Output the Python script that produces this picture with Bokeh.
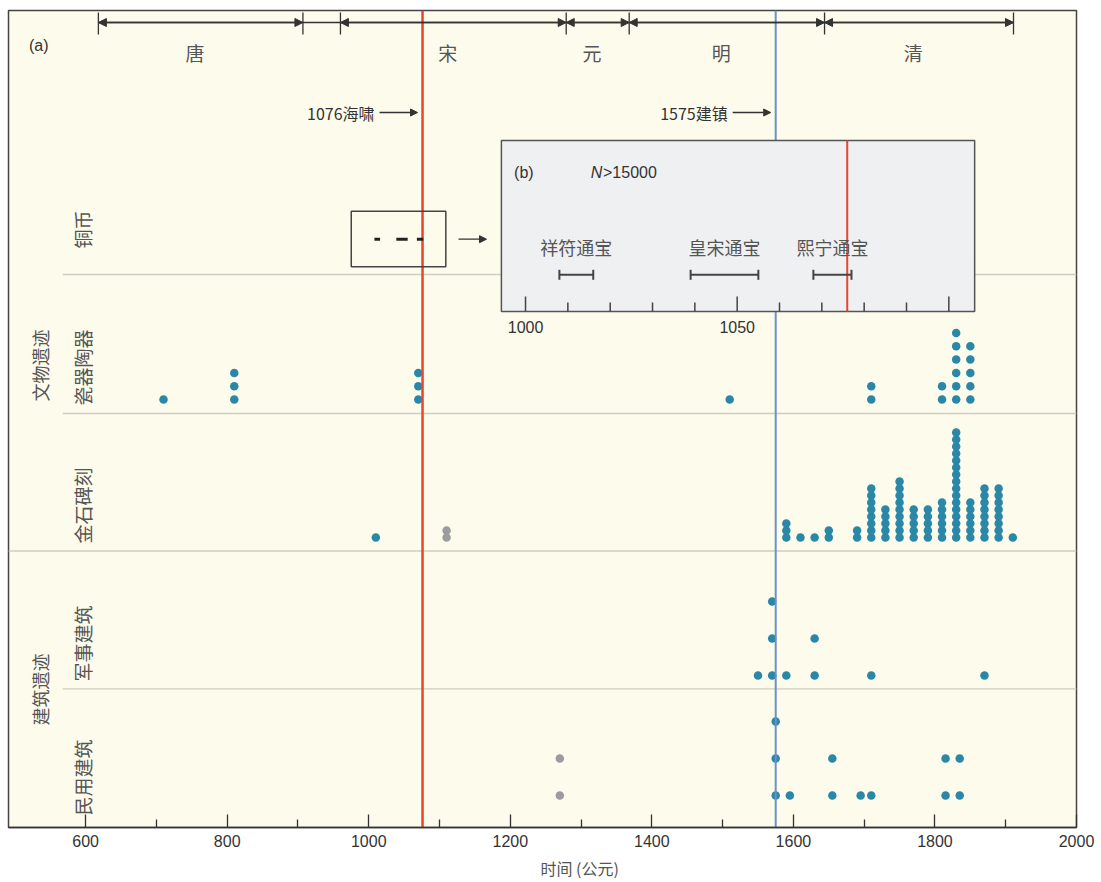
import numpy as np
from bokeh.plotting import figure
from bokeh.models import Range1d, FixedTicker, Arrow, NormalHead, Title
from bokeh.core.properties import value
from bokeh.embed import file_html
from bokeh.resources import INLINE

# ---------------- data ----------------
dyn_names = ["唐", "宋", "元", "明", "清"]
dyn_start = [618, 960, 1279, 1368, 1644]
dyn_end = [907, 1279, 1368, 1644, 1911]

event_years = [1076, 1575]
event_labels = ["1076海啸", "1575建镇"]

coin_names = ["祥符通宝", "皇宋通宝", "熙宁通宝"]
coin_start = [1008, 1039, 1068]
coin_end = [1016, 1055, 1077]

ceramic_years = [710, 810, 1070, 1510, 1710, 1810, 1830, 1850]
ceramic_counts = [1, 3, 3, 1, 2, 2, 6, 5]

inscr_years = [1010, 1590, 1610, 1630, 1650, 1690, 1710, 1730, 1750, 1770, 1790,
               1810, 1830, 1850, 1870, 1890, 1910]
inscr_counts = [1, 3, 1, 1, 2, 2, 8, 5, 9, 5, 5, 6, 16, 6, 8, 8, 1]
inscr_gray_years = [1110]
inscr_gray_counts = [2]

military_years = [1550, 1570, 1590, 1630, 1710, 1870]
military_counts = [1, 3, 1, 2, 1, 1]

civil_years = [1575, 1595, 1655, 1695, 1710, 1815, 1835]
civil_counts = [3, 1, 2, 1, 1, 2, 2]
civil_gray_years = [1270]
civil_gray_counts = [2]

row_labels = ["铜币", "瓷器陶器", "金石碑刻", "军事建筑", "民用建筑"]
group_labels = ["文物遗迹", "建筑遗迹"]
x_ticks = list(range(600, 2001, 200))
inset_tick_labels = [1000, 1050]

# ---------------- style / layout ----------------
CJK = "Noto Sans CJK SC"
LAT = "Liberation Sans"
TEAL = "#2a87a7"
GRAY = "#9b9ba0"
RED = "#e8452c"
BLUE = "#6a92c6"
DARK = "#333333"
TXT = "#555555"
BG = "#fdfbec"

H = 817          # frame height in y units (1 unit = 1 px)
XR = (491, 2000)
PXY = 1068 / (XR[1] - XR[0])   # px per year main axis

p = figure(frame_width=1068, frame_height=H, x_range=Range1d(*XR), y_range=Range1d(0, H),
           output_backend="svg", toolbar_location=None, y_axis_location=None,
           min_border_left=8, min_border_right=25, min_border_top=10, min_border_bottom=55,
           background_fill_color=BG, border_fill_color="white",
           outline_line_color="#444444", outline_line_width=1.5)
p.grid.visible = False
p.extra_x_ranges = {"inset": Range1d(877.86, 1130.16)}

ax = p.xaxis[0]
ax.ticker = FixedTicker(ticks=x_ticks, minor_ticks=list(range(700, 2000, 200)))
ax.major_tick_in = 13
ax.major_tick_out = 0
ax.minor_tick_in = 8
ax.minor_tick_out = 0
ax.axis_line_color = DARK
ax.axis_line_width = 1.5
ax.major_tick_line_color = DARK
ax.major_tick_line_width = 1.3
ax.minor_tick_line_color = DARK
ax.minor_tick_line_width = 1.3
ax.major_label_text_font = LAT
ax.major_label_text_font_size = "16px"
ax.major_label_text_color = DARK
ax.major_label_standoff = 7

# x-axis title, placed left-aligned with an offset so that it sits where the original does
p.add_layout(Title(text="时间 (公元)", align="left", offset=532, text_font=CJK,
                   text_font_size="16px", text_font_style="normal", text_color=TXT,
                   standoff=8), "below")

# row separators
sep_y = [553, 414, 276.5, 138.7]
sep_x0 = [567.5, 567.5, XR[0], 567.5]
p.segment(x0=sep_x0, y0=sep_y, x1=[XR[1]] * 4, y1=sep_y, line_color="#cfcdc2", line_width=1.3)


def stack(years, counts, base, step):
    xs, ys = [], []
    for yr, c in zip(years, counts):
        for k in range(c):
            xs.append(yr)
            ys.append(base + k * step)
    return xs, ys


rows = [
    (ceramic_years, ceramic_counts, 428, 13.3, TEAL),
    (inscr_years, inscr_counts, 290, 7.0, TEAL),
    (inscr_gray_years, inscr_gray_counts, 290, 7.0, GRAY),
    (military_years, military_counts, 152, 37.0, TEAL),
    (civil_years, civil_counts, 32, 37.0, TEAL),
    (civil_gray_years, civil_gray_counts, 32, 37.0, GRAY),
]
for yrs, cnts, base, step, col in rows:
    xs, ys = stack(yrs, cnts, base, step)
    p.scatter(xs, ys, size=8.5, fill_color=col, line_color=None)

# vertical event lines
p.segment(x0=event_years, y0=[0, 0], x1=event_years, y1=[H, H],
          line_color=[RED, BLUE], line_width=[2.5, 2.0])

# event labels and arrows
ev_y = 715
p.text(x=event_years, y=[ev_y] * 2, text=event_labels, x_offset=-48,
       text_align="right", text_baseline="middle", text_font=value(CJK),
       text_font_size="16px", text_color=DARK)
for ev in event_years:
    p.add_layout(Arrow(x_start=ev - 43 / PXY, x_end=ev - 5 / PXY, y_start=ev_y, y_end=ev_y,
                       line_color=DARK, line_width=1.3,
                       end=NormalHead(size=7, fill_color=DARK, line_color=DARK)))

# dynasty bar
bar_y = 805
bounds = sorted(set(dyn_start + dyn_end))
p.segment(x0=[min(bounds)], y0=[bar_y], x1=[max(bounds)], y1=[bar_y], line_color=DARK, line_width=1.3)
p.segment(x0=bounds, y0=[bar_y - 12] * len(bounds), x1=bounds, y1=[bar_y + 10] * len(bounds),
          line_color=DARK, line_width=1.3)
for s, e in zip(dyn_start, dyn_end):
    p.add_layout(Arrow(x_start=s, x_end=e, y_start=bar_y, y_end=bar_y, line_color=DARK, line_width=1.3,
                       start=NormalHead(size=8, fill_color=DARK, line_color=DARK),
                       end=NormalHead(size=8, fill_color=DARK, line_color=DARK)))
p.text(x=[(s + e) / 2 - 8 for s, e in zip(dyn_start, dyn_end)], y=[775] * 5, text=dyn_names,
       text_align="center", text_baseline="middle", text_font=value(CJK),
       text_font_size="19px", text_color=TXT)

p.text(x=[520], y=[782], text=["(a)"], text_align="left", text_baseline="middle",
       text_font=value(LAT), text_font_size="16px", text_color=DARK)

# row labels and group labels (vertical)
p.text(x=[595.5] * 5, y=[598, 460, 322, 184, 50], text=row_labels, angle=np.pi / 2,
       text_align="center", text_baseline="middle", text_font=value(CJK),
       text_font_size="19px", text_color=TXT)
p.text(x=[536.2] * 2, y=[462, 138], text=group_labels, angle=np.pi / 2,
       text_align="center", text_baseline="middle", text_font=value(CJK),
       text_font_size="18px", text_color=TXT)

# small box around coin dashes on main axis
p.quad(left=[975.3], right=[1108.9], bottom=[560.7], top=[616.3], fill_color=None,
       line_color="#444444", line_width=1.5)
p.segment(x0=coin_start, y0=[588.3] * 3, x1=coin_end, y1=[588.3] * 3, line_color="#222222", line_width=3)
p.add_layout(Arrow(x_start=1126.8, x_end=1166.4, y_start=588.3, y_end=588.3, line_color=DARK,
                   line_width=1.3, end=NormalHead(size=7, fill_color=DARK, line_color=DARK)))

# ---------------- inset (b) ----------------
IB, IT = 516, 687
p.quad(left=[994.3], right=[1106.1], bottom=[IB], top=[IT], fill_color="#eff0f2",
       line_color="#555555", line_width=1.5, x_range_name="inset")
p.segment(x0=[event_years[0]], y0=[IB], x1=[event_years[0]], y1=[IT], line_color=RED,
          line_width=2, x_range_name="inset")
itk = list(range(1000, 1101, 10))
p.segment(x0=itk, y0=[IB] * len(itk), x1=itk, y1=[IB + (15 if t % 50 == 0 else 9) for t in itk],
          line_color="#444444", line_width=1.5, x_range_name="inset")
p.text(x=inset_tick_labels, y=[501] * 2, text=[str(t) for t in inset_tick_labels],
       text_align="center", text_baseline="middle", text_font=value(LAT),
       text_font_size="16px", text_color=DARK, x_range_name="inset")

cy = 552.7
p.segment(x0=coin_start, y0=[cy] * 3, x1=coin_end, y1=[cy] * 3, line_color="#444444",
          line_width=2, x_range_name="inset")
caps = coin_start + coin_end
p.segment(x0=caps, y0=[cy - 5] * 6, x1=caps, y1=[cy + 5] * 6, line_color="#444444",
          line_width=2, x_range_name="inset")
p.text(x=[(s + e) / 2 for s, e in zip(coin_start, coin_end)], y=[581] * 3, text=coin_names,
       text_align="center", text_baseline="middle", text_font=value(CJK),
       text_font_size="18px", text_color=TXT, x_range_name="inset")

p.text(x=[997.3], y=[655], text=["(b)"], text_align="left", text_baseline="middle",
       text_font=value(LAT), text_font_size="16px", text_color=DARK, x_range_name="inset")
p.text(x=[1015.4], y=[655], text=["N"], text_align="left", text_baseline="middle",
       text_font=value(LAT), text_font_style="italic", text_font_size="16px",
       text_color=DARK, x_range_name="inset")
p.text(x=[1018.3], y=[655], text=[">15000"], text_align="left", text_baseline="middle",
       text_font=value(LAT), text_font_size="16px", text_color=DARK, x_range_name="inset")

open("out.html", "w").write(file_html(p, INLINE))
